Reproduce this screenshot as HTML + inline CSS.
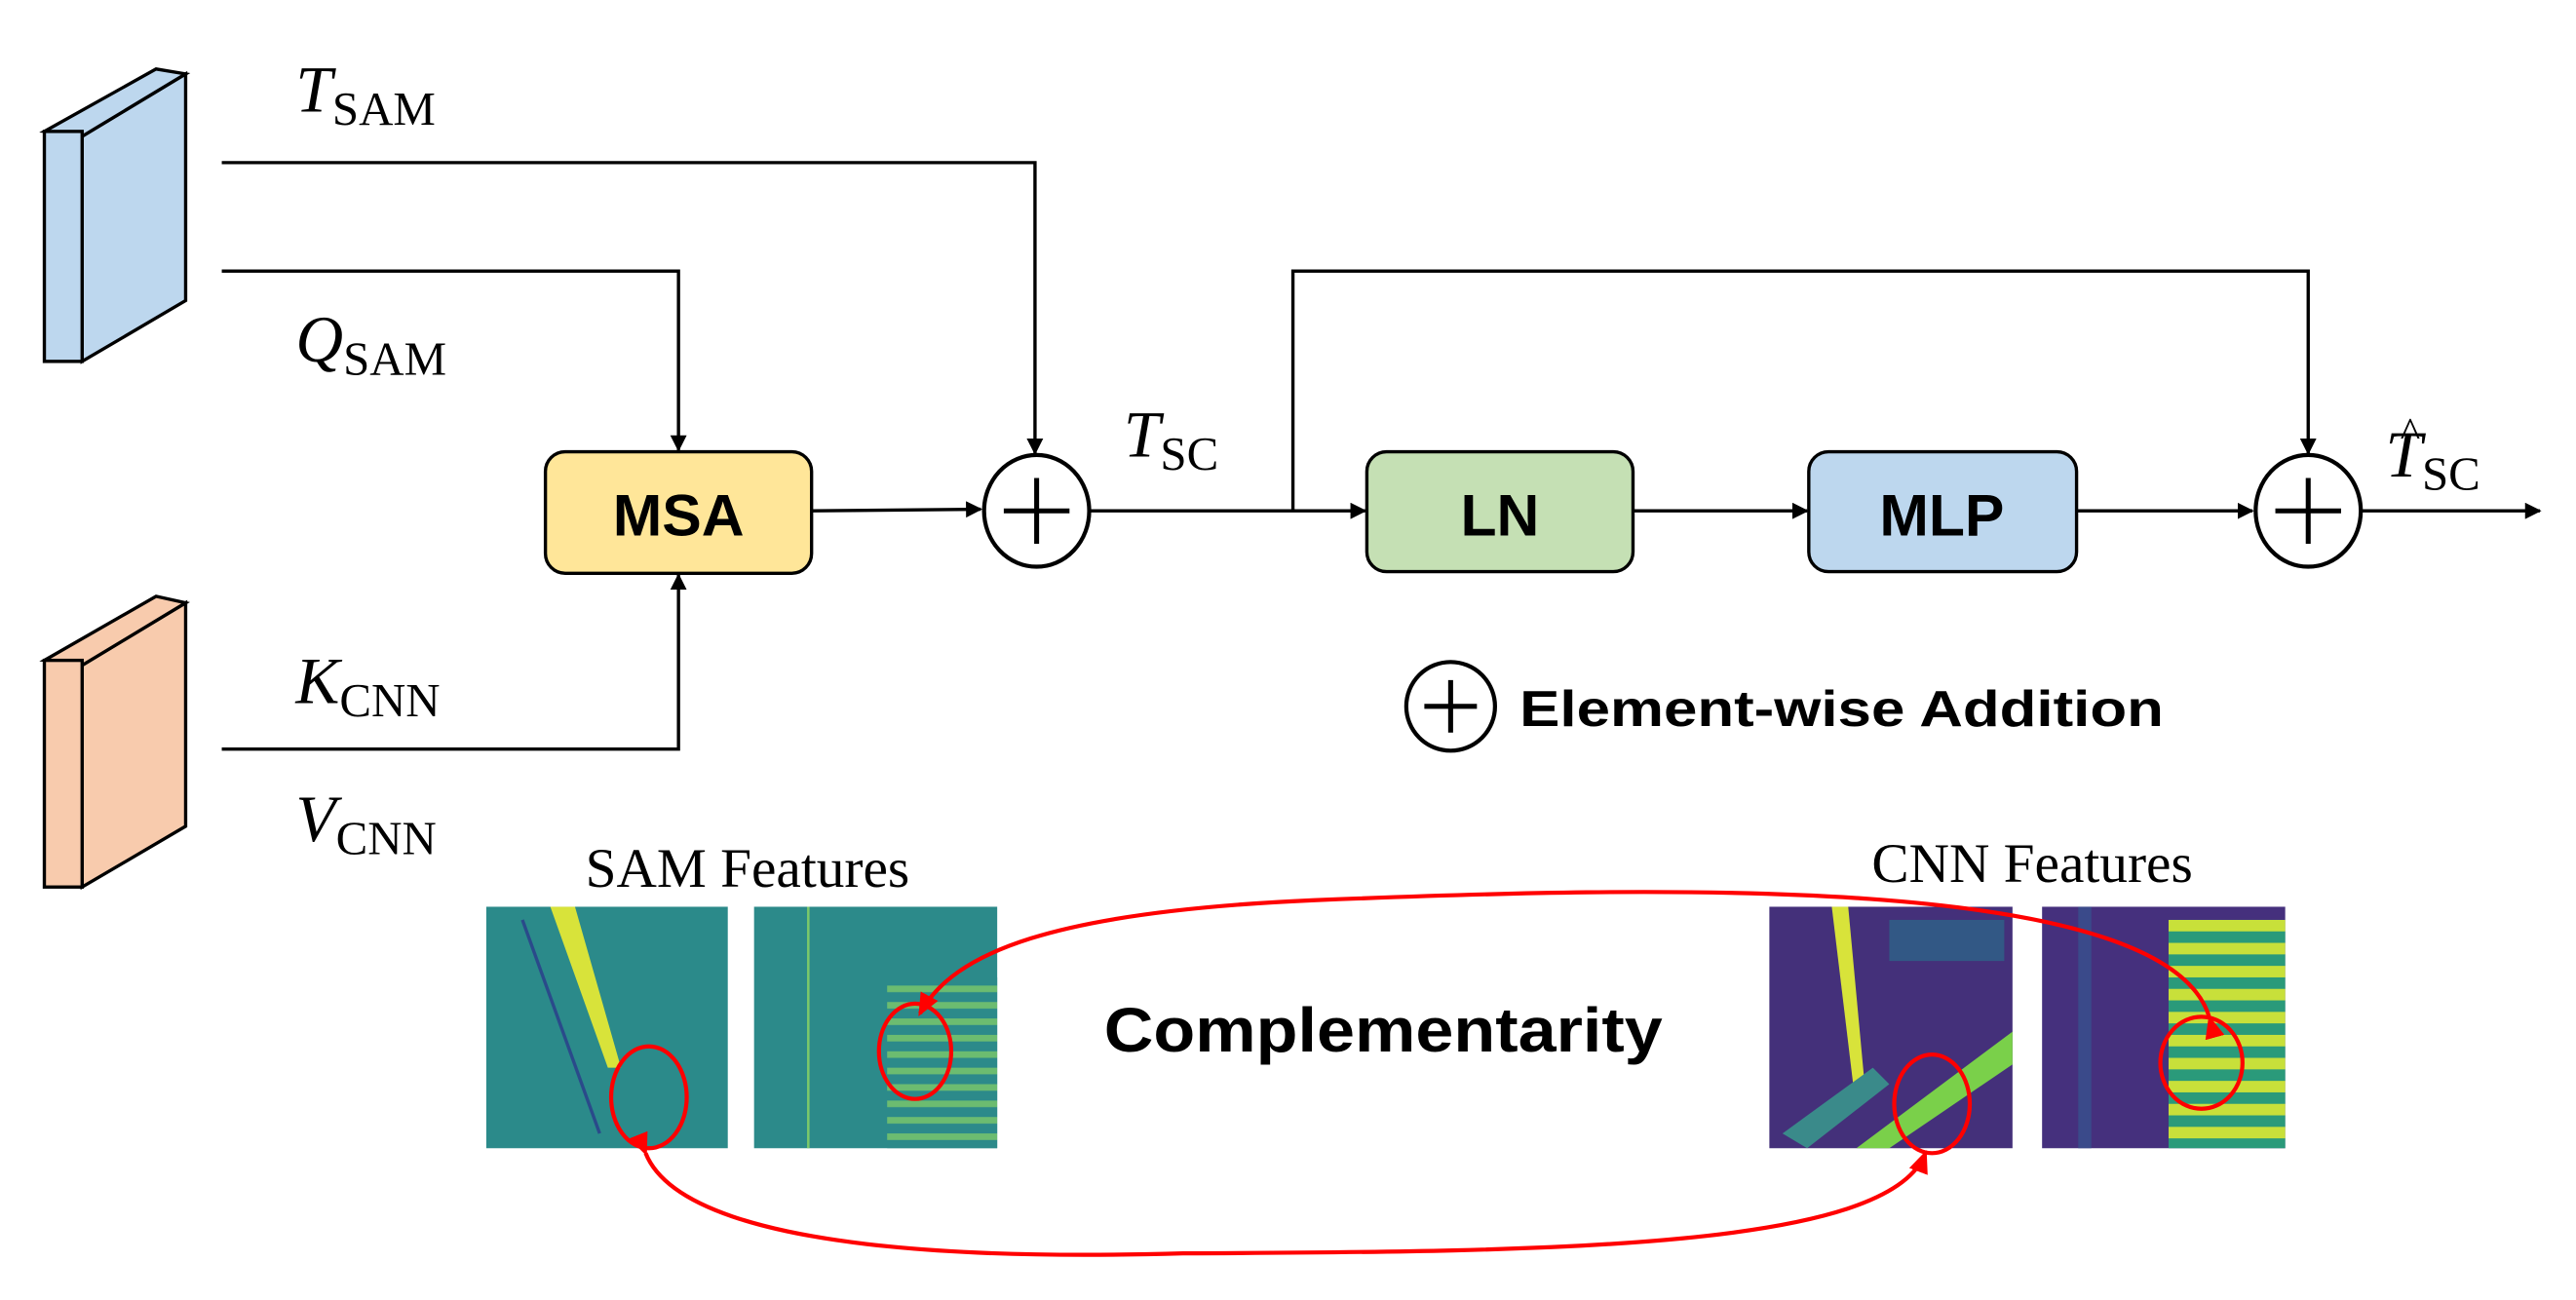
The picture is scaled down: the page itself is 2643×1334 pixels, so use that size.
<!DOCTYPE html>
<html><head><meta charset="utf-8"><style>
html,body{margin:0;padding:0;background:#fff;}
svg{display:block;}
.it{font-family:"Liberation Serif",serif;font-style:italic;font-size:40px;}
.sub{font-family:"Liberation Serif",serif;font-style:normal;font-size:29px;}
.b{font-family:"Liberation Sans",sans-serif;font-weight:bold;}
</style></head><body>
<svg width="2643" height="1334" viewBox="0 0 1568 791.4" preserveAspectRatio="none" xmlns="http://www.w3.org/2000/svg">
<defs>
<marker id="ar" markerWidth="10" markerHeight="10" refX="9" refY="5" orient="auto" markerUnits="userSpaceOnUse"><path d="M0,0 L10,5 L0,10 z" fill="#000"/></marker>
<marker id="rr" markerWidth="14" markerHeight="12" refX="12" refY="6" orient="auto" markerUnits="userSpaceOnUse"><path d="M0,0 L14,6 L0,12 z" fill="#f00"/></marker>
<pattern id="stripeY" width="10" height="14" patternUnits="userSpaceOnUse"><rect width="10" height="14" fill="#2a9a7a"/><rect y="0" width="10" height="7" fill="#c8e03a"/></pattern>
<pattern id="stripeS" width="8" height="10" patternUnits="userSpaceOnUse"><rect width="8" height="10" fill="#2c8a8a"/><rect y="0" width="8" height="4" fill="#7cc86a"/></pattern>
</defs>
<!-- slabs -->
<polygon points="50,83 113,45 113,183 50,220" fill="#bdd7ee" stroke="#000" stroke-width="2"/>
<polygon points="27,80 50,83 113,45 95,42" fill="#bdd7ee" stroke="#000" stroke-width="2"/>
<rect x="27" y="80" width="23" height="140" fill="#bdd7ee" stroke="#000" stroke-width="2"/>
<polygon points="50,405 113,367 113,503 50,540" fill="#f8cbad" stroke="#000" stroke-width="2"/>
<polygon points="27,402 50,405 113,367 95,363" fill="#f8cbad" stroke="#000" stroke-width="2"/>
<rect x="27" y="402" width="23" height="138" fill="#f8cbad" stroke="#000" stroke-width="2"/>
<!-- lines -->
<g stroke="#000" stroke-width="2" fill="none">
<polyline points="135,99 630,99 630,276" marker-end="url(#ar)"/>
<polyline points="135,165 413,165 413,274" marker-end="url(#ar)"/>
<polyline points="135,456 413,456 413,350" marker-end="url(#ar)"/>
<line x1="494" y1="311" x2="597" y2="310" marker-end="url(#ar)"/>
<line x1="664" y1="311" x2="831" y2="311" marker-end="url(#ar)"/>
<polyline points="787,311 787,165 1405,165 1405,276" marker-end="url(#ar)"/>
<line x1="994" y1="311" x2="1100" y2="311" marker-end="url(#ar)"/>
<line x1="1264" y1="311" x2="1371" y2="311" marker-end="url(#ar)"/>
<line x1="1438" y1="311" x2="1546" y2="311" marker-end="url(#ar)"/>
</g>
<!-- boxes -->
<rect x="332" y="275" width="162" height="74" rx="12" fill="#ffe699" stroke="#000" stroke-width="2"/>
<text x="413" y="326" text-anchor="middle" class="b" font-size="36">MSA</text>
<rect x="832" y="275" width="162" height="73" rx="12" fill="#c5e0b4" stroke="#000" stroke-width="2"/>
<text x="913" y="326" text-anchor="middle" class="b" font-size="36">LN</text>
<rect x="1101" y="275" width="163" height="73" rx="12" fill="#bdd7ee" stroke="#000" stroke-width="2"/>
<text x="1182" y="326" text-anchor="middle" class="b" font-size="36">MLP</text>
<!-- plus circles -->
<g stroke="#000" stroke-width="2.5" fill="#fff">
<ellipse cx="631" cy="311" rx="32" ry="34"/>
<ellipse cx="1405" cy="311" rx="32" ry="34"/>
<circle cx="883" cy="430" r="27"/>
</g>
<g stroke="#000" stroke-width="3">
<line x1="611" y1="311" x2="651" y2="311"/><line x1="631" y1="291" x2="631" y2="331"/>
<line x1="1385" y1="311" x2="1425" y2="311"/><line x1="1405" y1="291" x2="1405" y2="331"/>
<line x1="867" y1="430" x2="899" y2="430"/><line x1="883" y1="414" x2="883" y2="446"/>
</g>
<text x="925" y="442" class="b" font-size="31" textLength="392" lengthAdjust="spacingAndGlyphs">Element-wise Addition</text>
<!-- math labels -->
<text x="180" y="68" class="it">T<tspan class="sub" dy="8">SAM</tspan></text>
<text x="180" y="220" class="it">Q<tspan class="sub" dy="8">SAM</tspan></text>
<text x="180" y="428" class="it">K<tspan class="sub" dy="8">CNN</tspan></text>
<text x="180" y="512" class="it">V<tspan class="sub" dy="8">CNN</tspan></text>
<text x="684" y="278" class="it">T<tspan class="sub" dy="8">SC</tspan></text>
<text x="1452" y="290" class="it">T<tspan class="sub" dy="8">SC</tspan></text>
<text x="1461" y="272" font-family="Liberation Serif" font-size="26">^</text>
<!-- features titles -->
<text x="455" y="540" text-anchor="middle" font-family="Liberation Serif,serif" font-size="34">SAM Features</text>
<text x="1237" y="537" text-anchor="middle" font-family="Liberation Serif,serif" font-size="34">CNN Features</text>
<text x="842" y="640" text-anchor="middle" class="b" font-size="38" textLength="340" lengthAdjust="spacingAndGlyphs">Complementarity</text>
<!-- feature maps -->
<rect x="296" y="552" width="147" height="147" fill="#2b8a8a"/>
<polygon points="335,552 350,552 378,650 370,650" fill="#d8e33a"/>
<line x1="318" y1="560" x2="365" y2="690" stroke="#2a4a8a" stroke-width="2"/>
<rect x="459" y="552" width="148" height="147" fill="#2c8a8a"/>
<rect x="540" y="595" width="67" height="104" fill="url(#stripeS)" opacity="0.8"/>
<line x1="492" y1="552" x2="492" y2="699" stroke="#7cc86a" stroke-width="1.5"/>
<rect x="1077" y="552" width="148" height="147" fill="#44307a"/>
<polygon points="1115,552 1125,552 1135,660 1128,660" fill="#d8e33a"/>
<polygon points="1130,699 1150,699 1225,648 1225,628" fill="#7ad04a"/>
<polygon points="1085,690 1100,699 1150,660 1140,650" fill="#3a8a8a"/>
<rect x="1150" y="560" width="70" height="25" fill="#2b6a8a" opacity="0.7"/>
<rect x="1243" y="552" width="148" height="147" fill="#45307d"/>
<rect x="1320" y="560" width="71" height="139" fill="url(#stripeY)"/>
<rect x="1265" y="552" width="8" height="147" fill="#3a4a8a"/>
<!-- red circles -->
<g stroke="#f00" stroke-width="2.5" fill="none">
<ellipse cx="395" cy="668" rx="23" ry="31"/>
<ellipse cx="557" cy="640" rx="22" ry="29"/>
<ellipse cx="1176" cy="672" rx="23" ry="30"/>
<ellipse cx="1340" cy="647" rx="25" ry="28"/>
<path d="M1345,620 C1320,530 1000,540 800,548 C640,555 580,580 560,617" marker-end="url(#rr)" marker-start="url(#rr)"/>
<path d="M393,702 C420,770 650,765 720,763 C950,762 1150,760 1172,702" marker-end="url(#rr)" marker-start="url(#rr)"/>
</g>
</svg>
</body></html>
